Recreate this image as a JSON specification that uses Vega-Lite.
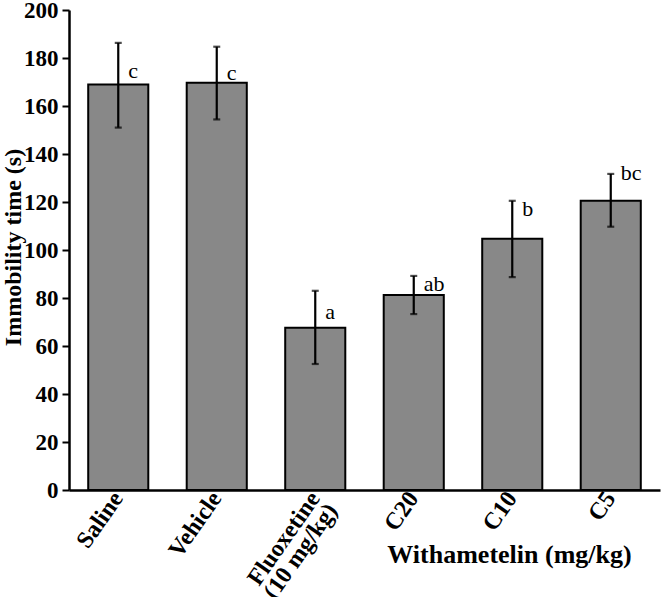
{
  "$schema": "https://vega.github.io/schema/vega-lite/v6.json",
  "width": 591,
  "height": 480,
  "autosize": {"type": "none"},
  "padding": {"left": 69, "top": 10, "right": 1, "bottom": 107},
  "background": "white",
  "config": {
    "view": {"stroke": null},
    "font": "Liberation Serif"
  },
  "data": {
    "values": [
      {"group": "Saline", "mean": 169, "low": 151, "high": 186.3, "sig": "c", "sig_y": 171.5},
      {"group": "Vehicle", "mean": 169.7, "low": 154.4, "high": 184.7, "sig": "c", "sig_y": 171},
      {"group": "Fluoxetine", "mean": 67.6, "low": 52.5, "high": 83, "sig": "a", "sig_y": 71.3},
      {"group": "C20", "mean": 81.2, "low": 73.3, "high": 89.2, "sig": "ab", "sig_y": 83},
      {"group": "C10", "mean": 104.7, "low": 88.7, "high": 120.5, "sig": "b", "sig_y": 114},
      {"group": "C5", "mean": 120.5, "low": 109.7, "high": 131.7, "sig": "bc", "sig_y": 129.2}
    ]
  },
  "encoding": {
    "x": {
      "field": "group",
      "type": "nominal",
      "sort": null,
      "scale": {"paddingInner": 0.39, "paddingOuter": 0.195},
      "axis": {
        "title": "Withametelin (mg/kg)",
        "titleFont": "Liberation Serif",
        "titleFontSize": 26,
        "titleFontWeight": "bold",
        "titleColor": "black",
        "titleX": 440,
        "titleY": 72,
        "titleAlign": "center",
        "titleBaseline": "alphabetic",
        "labelExpr": "datum.value == 'Fluoxetine' ? ['Fluoxetine', '(10 mg/kg)'] : datum.label",
        "labelAngle": -55,
        "labelAlign": "right",
        "labelBaseline": "middle",
        "labelFont": "Liberation Serif",
        "labelFontSize": 24,
        "labelFontWeight": "bold",
        "labelColor": "black",
        "labelPadding": 4,
        "labelLineHeight": 21,
        "ticks": false,
        "domainColor": "black",
        "domainWidth": 2.5,
        "grid": false
      }
    }
  },
  "layer": [
    {
      "mark": {"type": "bar", "fill": "#888888", "stroke": "black", "strokeWidth": 2},
      "encoding": {
        "y": {
          "field": "mean",
          "type": "quantitative",
          "scale": {"domain": [0, 200], "nice": false},
          "axis": {
            "title": "Immobility time (s)",
            "titleFont": "Liberation Serif",
            "titleFontSize": 24,
            "titleFontWeight": "bold",
            "titleColor": "black",
            "titleAngle": -90,
            "titleX": -56,
            "titleY": 237,
            "titleAlign": "center",
            "titleBaseline": "middle",
            "values": [0, 20, 40, 60, 80, 100, 120, 140, 160, 180, 200],
            "labelFont": "Liberation Serif",
            "labelFontSize": 23,
            "labelFontWeight": "bold",
            "labelColor": "black",
            "labelPadding": 4,
            "tickSize": 7,
            "tickWidth": 2,
            "tickColor": "black",
            "domainColor": "black",
            "domainWidth": 2.5,
            "grid": false
          }
        }
      }
    },
    {
      "mark": {"type": "rule", "color": "black", "strokeWidth": 2.2},
      "encoding": {
        "y": {"field": "low", "type": "quantitative"},
        "y2": {"field": "high"}
      }
    },
    {
      "mark": {"type": "tick", "color": "black", "thickness": 2.2, "size": 7},
      "encoding": {"y": {"field": "low", "type": "quantitative"}}
    },
    {
      "mark": {"type": "tick", "color": "black", "thickness": 2.2, "size": 7},
      "encoding": {"y": {"field": "high", "type": "quantitative"}}
    },
    {
      "mark": {"type": "text", "align": "left", "baseline": "alphabetic", "dx": 10, "font": "Liberation Serif", "fontSize": 22, "color": "black"},
      "encoding": {
        "y": {"field": "sig_y", "type": "quantitative"},
        "text": {"field": "sig"}
      }
    }
  ]
}
